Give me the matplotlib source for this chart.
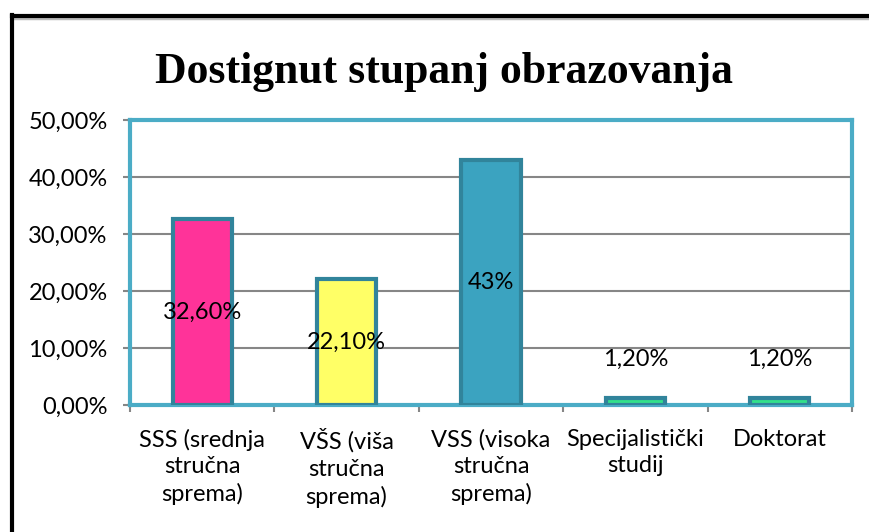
import matplotlib.pyplot as plt
from matplotlib.lines import Line2D
from matplotlib.ticker import FuncFormatter

categories = [
    "SSS (srednja\nstručna\nsprema)",
    "VŠS (viša\nstručna\nsprema)",
    "VSS (visoka\nstručna\nsprema)",
    "Specijalistički\nstudij",
    "Doktorat",
]
values = [0.326, 0.221, 0.43, 0.012, 0.012]
value_labels = ["32,60%", "22,10%", "43%", "1,20%", "1,20%"]
yticks = [0.0, 0.1, 0.2, 0.3, 0.4, 0.5]

FILLS = ["#ff3399", "#ffff66", "#3ba3c0", "#33e08a", "#33e08a"]
EDGE = "#31849b"
FRAME = "#4bacc6"
GRID = "#868686"
FONT = "Lato"
FS = 17

fig = plt.figure(figsize=(8.7, 5.32), dpi=100)
ax = fig.add_axes([0.1494, 0.2387, 0.8299, 0.5357])

x = range(len(values))
ax.bar(x, values, width=0.41, color=FILLS, edgecolor=EDGE, linewidth=3, zorder=3)

# labels sit inside the tall bars, above the tiny ones
for i, (v, lab) in enumerate(zip(values, value_labels)):
    if v > 0.1:
        ax.text(i, v / 2, lab, ha="center", va="center", fontsize=FS,
                family=FONT, color="black", zorder=4)
    else:
        ax.annotate(lab, (i, v), xytext=(0, 28), textcoords="offset points",
                    ha="center", va="center", fontsize=FS, family=FONT,
                    color="black", zorder=4)

ax.set_xlim(-0.5, len(values) - 0.5)
ax.set_ylim(0, 0.5)
ax.set_yticks(yticks)
ax.yaxis.set_major_formatter(FuncFormatter(lambda v, _: f"{v * 100:.2f}%".replace(".", ",")))
ax.grid(axis="y", color=GRID, linewidth=1.5, zorder=1)
ax.set_axisbelow(True)

# category labels centred under bars, ticks on category boundaries
ax.set_xticks(list(x))
ax.set_xticklabels(categories, fontsize=FS, family=FONT, linespacing=1.33)
ax.set_xticks([i + 0.5 for i in range(-1, len(values))], minor=True)
ax.tick_params(axis="x", which="major", length=0, pad=17)
ax.tick_params(axis="x", which="minor", length=5, color=GRID, width=1.5)
ax.tick_params(axis="y", length=5, color=GRID, width=1.5, pad=11, labelsize=FS)
for t in ax.get_yticklabels():
    t.set_family(FONT)

for s in ax.spines.values():
    s.set_color(FRAME)
    s.set_linewidth(3)

fig.text(0.51, 0.844, "Dostignut stupanj obrazovanja", ha="center", va="baseline",
         fontsize=31.5, fontweight="bold", family="Liberation Serif")

# outer chart frame: only top and left edges fall inside the image
fig.add_artist(Line2D([0.0138, 1.0], [0.9665, 0.9665], transform=fig.transFigure,
                      color="#bbbbbb", linewidth=2.5))
fig.add_artist(Line2D([0.0138, 1.0], [0.969, 0.969], transform=fig.transFigure,
                      color="black", linewidth=3))
fig.add_artist(Line2D([0.0138, 0.0138], [0.0, 0.971], transform=fig.transFigure,
                      color="black", linewidth=3))

fig.savefig("out.png", dpi=100, facecolor="white")
